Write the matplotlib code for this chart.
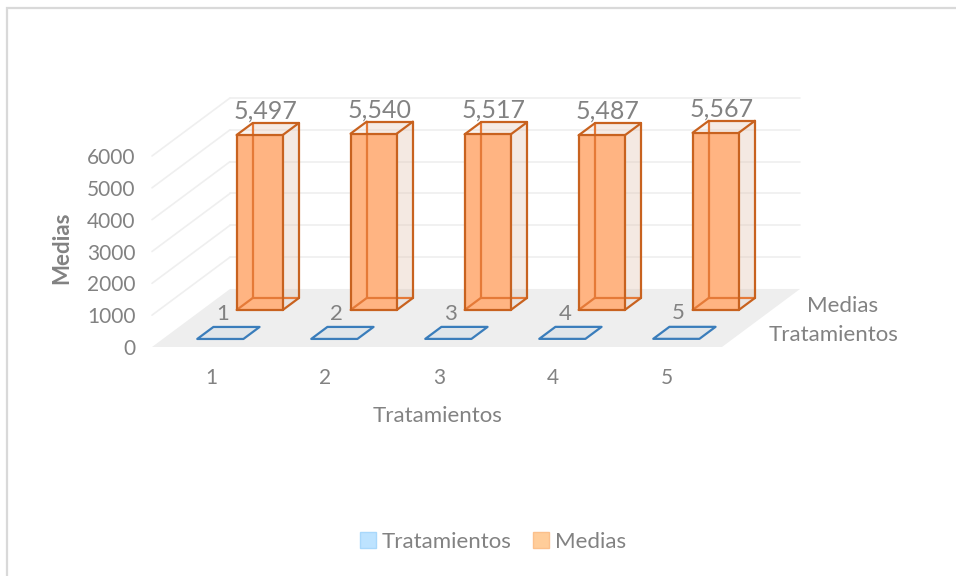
import matplotlib
matplotlib.use("Agg")
import matplotlib.pyplot as plt
from matplotlib.patches import Patch, Polygon, Rectangle
from matplotlib.transforms import ScaledTranslation

plt.rcParams['font.family'] = ['Lato', 'DejaVu Sans']

# data
categorias = [1, 2, 3, 4, 5]
tratamientos = [1, 2, 3, 4, 5]
medias = [5497, 5540, 5517, 5487, 5567]
y_ticks = [0, 1000, 2000, 3000, 4000, 5000, 6000]

TXT = "#828282"
GRID = "#efefef"
W, H = 956, 576

# oblique 3d: the depth axis goes up and to the right
DX = 78 / 114.0    # category units for full depth
DY = 58 / 31.83 * 1000    # value units for full depth
BAR_W = 0.405


def proj(x, d, v):
    return (x + d * DX, v + d * DY)


def poly(ax, pts, fc, ec="none", lw=1.0, alpha=None, z=2):
    ax.add_patch(Polygon([proj(*p) for p in pts], closed=True, fc=fc, ec=ec, lw=lw,
                         alpha=alpha, zorder=z, clip_on=False, joinstyle="round"))


def edge(ax, a, b, color, lw=1.6, z=3):
    xa, ya = proj(*a)
    xb, yb = proj(*b)
    ax.plot([xa, xb], [ya, yb], color=color, lw=lw, zorder=z, clip_on=False,
            solid_capstyle="round")


def caja(ax, x, v, d0, d1, z):
    x0, x1 = x - BAR_W / 2 + 0.008, x + BAR_W / 2 + 0.008
    dark = "#c8621f"
    soft = "#e57a38"
    # side and top are very pale, the front is the strong one
    poly(ax, [(x0, d1, 0), (x1, d1, 0), (x1, d1, v), (x0, d1, v)], "#e8c8b4", alpha=0.2, z=z)
    poly(ax, [(x1, d0, 0), (x1, d1, 0), (x1, d1, v), (x1, d0, v)], "#dcc0ae", alpha=0.2, z=z)
    poly(ax, [(x0, d0, v), (x1, d0, v), (x1, d1, v), (x0, d1, v)], "#e8c8b4", alpha=0.2, z=z)
    poly(ax, [(x0, d0, 0), (x1, d0, 0), (x1, d0, v), (x0, d0, v)], "#ffb482", z=z + 0.1)
    # hidden edges, seen through the front
    edge(ax, (x0, d1, 0), (x0, d1, v), soft, z=z + 0.2)
    edge(ax, (x0, d1, 0), (x1, d1, 0), soft, z=z + 0.2)
    edge(ax, (x0, d0, 0), (x0, d1, 0), soft, z=z + 0.2)
    # outer edges
    for a, b in [((x0, d0, 0), (x1, d0, 0)), ((x1, d0, 0), (x1, d0, v)),
                 ((x1, d0, v), (x0, d0, v)), ((x0, d0, v), (x0, d0, 0)),
                 ((x1, d0, 0), (x1, d1, 0)), ((x1, d1, 0), (x1, d1, v)),
                 ((x0, d0, v), (x0, d1, v)), ((x0, d1, v), (x1, d1, v)),
                 ((x1, d0, v), (x1, d1, v))]:
        edge(ax, a, b, dark, z=z + 0.3)


fig = plt.figure(figsize=(W / 100, H / 100), dpi=100, facecolor="white")
ax = fig.add_axes([152 / W, 1 - 347 / H, 570 / W, 191 / H])
ax.set_xlim(0.5, 5.5)
ax.set_ylim(0, 6000)
ax.patch.set_visible(False)
for s in ax.spines.values():
    s.set_visible(False)

# chart border, left and top
fig.add_artist(Rectangle((7 / W, -0.02), 1.1, 1 - 8 / H + 0.02, transform=fig.transFigure,
                         fc="none", ec="#d9d9d9", lw=1.6))

# gridlines on the wall
for t in y_ticks[1:]:
    edge(ax, (0.5, 0, t), (0.5, 1, t), GRID, lw=1.2, z=1)
    edge(ax, (0.5, 1, t), (5.5, 1, t), GRID, lw=1.2, z=1)

# floor
poly(ax, [(0.5, 0, 0), (5.5, 0, 0), (5.5, 1, 0), (0.5, 1, 0)], "#eeeeee", z=1.5)

# Tratamientos row (practically flat on the floor)
for c, v in zip(categorias, tratamientos):
    x0, x1 = c - BAR_W / 2 + 0.005, c + BAR_W / 2 + 0.005
    poly(ax, [(x0, 0.138, v), (x1, 0.138, v), (x1, 0.345, v), (x0, 0.345, v)],
         "#dfe5ea", ec="#3a7dbb", lw=1.6, z=2)
    ax.annotate(str(v), proj(c, 0.24, v), xytext=(-3.6, 14), textcoords="offset points",
                ha="center", va="center", color=TXT, fontsize=16, zorder=6, annotation_clip=False)

# Medias row
for c, v in zip(categorias, medias):
    caja(ax, c, v, 0.638, 0.845, z=3)
    ax.annotate(f"{v:,}", proj(c, 0.74, v), xytext=(-0.7, 13), textcoords="offset points",
                ha="center", va="center", color=TXT, fontsize=18, zorder=6, annotation_clip=False)

# names on the depth axis
for nombre, d in [("Tratamientos", 0.24), ("Medias", 0.74)]:
    ax.annotate(nombre, proj(5.5, d, 0), xytext=(20, -1.6), textcoords="offset points",
                ha="left", va="center", color=TXT, fontsize=16, annotation_clip=False)

ax.set_yticks(y_ticks)
ax.set_xticks(categorias)
ax.set_xticklabels([str(c) for c in categorias])
ax.tick_params(axis="both", length=0, labelsize=15, labelcolor=TXT)
ax.tick_params(axis="y", pad=12)
ax.tick_params(axis="x", pad=15)
shift = ScaledTranslation(2 / 100, 0, fig.dpi_scale_trans)
for lab in ax.get_xticklabels():
    lab.set_transform(lab.get_transform() + shift)

ax.set_xlabel("Tratamientos", fontsize=16, color=TXT)
ax.xaxis.set_label_coords((438 - 152) / 570, (347 - 406) / 191)
ax.set_ylabel("Medias", fontsize=16, color=TXT, fontweight="bold")
ax.yaxis.set_label_coords((72 - 152) / 570, (347 - 248) / 191)

handles = [Patch(fc="#bde3ff", ec="#a9d8fb", label="Tratamientos"),
           Patch(fc="#ffcd9a", ec="#fbc08c", label="Medias")]
fig.legend(handles=handles, ncols=2, frameon=False, loc="center", fontsize=16,
           bbox_to_anchor=(493 / W, 1 - 542 / H), labelcolor=TXT, handlelength=0.72,
           handleheight=0.72, handletextpad=0.25, columnspacing=1.0)

fig.savefig("out.png", dpi=100)
